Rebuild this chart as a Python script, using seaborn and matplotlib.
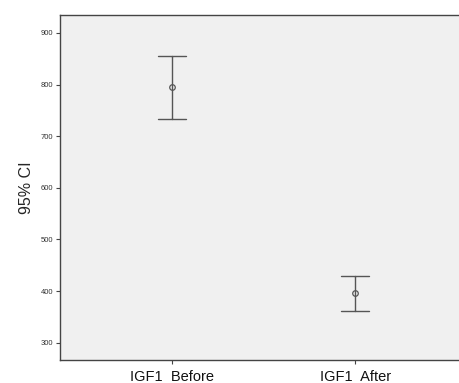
import numpy as np
import pandas as pd
import matplotlib
matplotlib.use("Agg")
import matplotlib.pyplot as plt
import seaborn as sns

# 95% CI values
groups = ["IGF1  Before", "IGF1  After"]
ci_lower = [733.8, 361.3]
means = [794.8, 396.0]
ci_upper = [854.8, 429.6]

# long table: lower / mean / upper per group; the median gives the mean,
# the 100% interval gives the CI bounds
rows = []
for g, lo, m, hi in zip(groups, ci_lower, means, ci_upper):
    for v in (lo, m, hi):
        rows.append({"group": g, "value": v})
data = pd.DataFrame(rows)

sns.set_style("ticks")
plt.rcParams["font.family"] = ["Liberation Sans", "DejaVu Sans"]

fig = plt.figure(figsize=(4.59, 3.83), dpi=100)
ax = fig.add_axes([0.130, 0.060, 0.870, 0.900])
ax.set_facecolor("#f0f0f0")

sns.pointplot(data=data, x="group", y="value", estimator=np.median,
              errorbar=("pi", 100), linestyle="none", capsize=0.15,
              color="#555555", marker="o", markersize=4,
              markerfacecolor="none", markeredgewidth=0.9,
              err_kws={"linewidth": 1.0}, ax=ax)

ax.set_xlim(-0.612, 1.567)
ax.set_ylim(266.5, 934)
ax.set_yticks([300, 400, 500, 600, 700, 800, 900])
ax.set_xlabel("")
ax.set_ylabel("95% CI", fontsize=11.5, labelpad=5)
ax.tick_params(axis="y", labelsize=5.5, length=3, width=0.8, color="#444444",
               pad=1.5, labelcolor="#333333")
ax.tick_params(axis="x", labelsize=10.5, length=3, width=0.8, color="#444444",
               pad=4, labelcolor="#111111")

for side in ["left", "bottom", "top"]:
    ax.spines[side].set_color("#444444")
    ax.spines[side].set_linewidth(1.0)
ax.spines["right"].set_visible(False)

fig.savefig("out.png", dpi=100, facecolor="white")
